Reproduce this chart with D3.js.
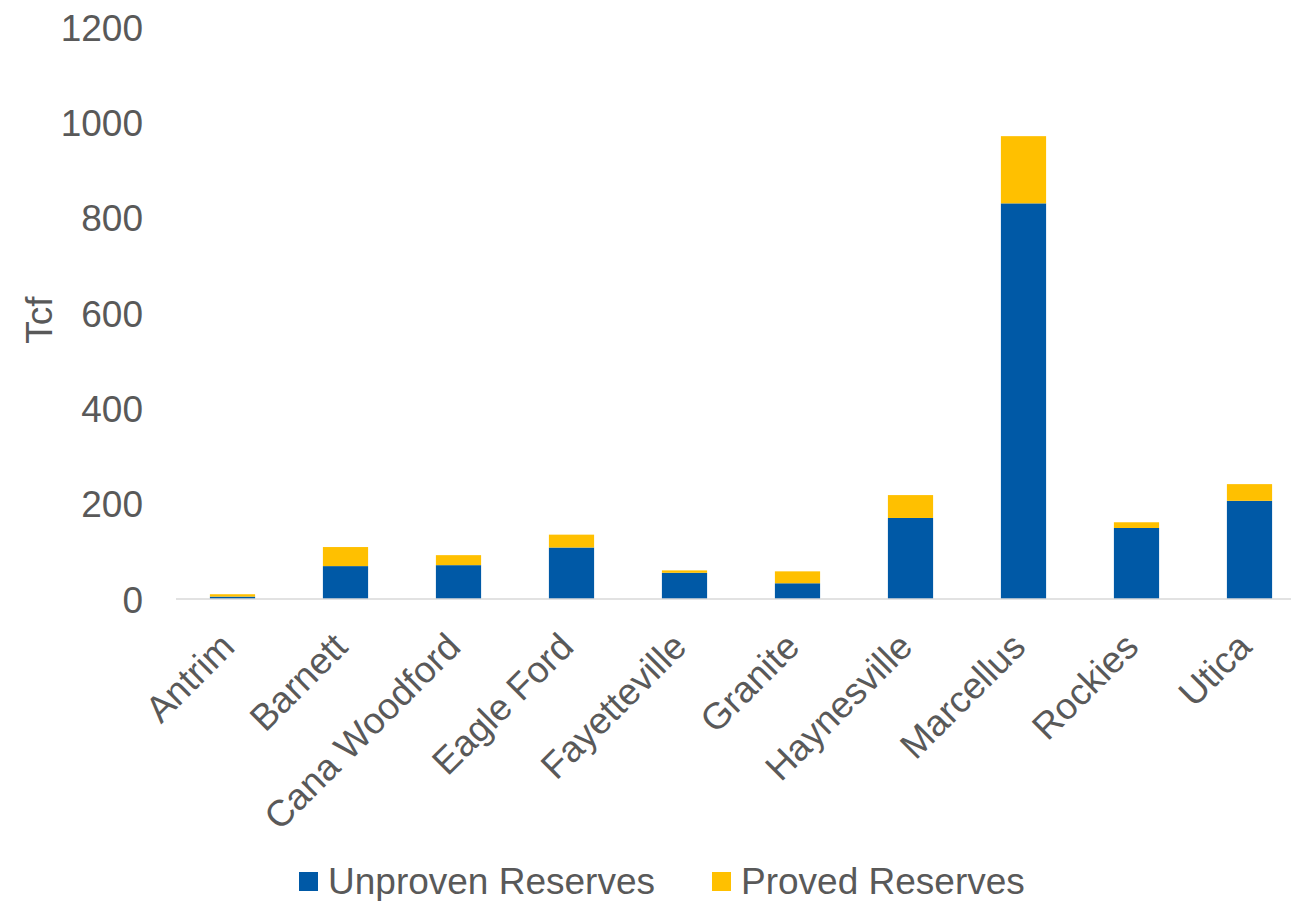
<!DOCTYPE html>
<html>
<head>
<meta charset="utf-8">
<script src="https://cdn.jsdelivr.net/npm/d3@7"></script>
<style>
  html, body { margin: 0; padding: 0; background: #fff; }
  text { font-family: "Liberation Sans", Arial, sans-serif; fill: #595959; }
</style>
</head>
<body>
<svg id="chart" width="1291" height="901"></svg>
<script>
// Shale plays and their gas reserves (Tcf)
const categories = ["Antrim", "Barnett", "Cana Woodford", "Eagle Ford", "Fayetteville",
                    "Granite", "Haynesville", "Marcellus", "Rockies", "Utica"];
const unproven = [5, 69, 71, 108, 55, 33, 170, 830, 149, 206];
const proved   = [5, 40, 21, 27, 5, 25, 48, 141, 12, 35];
const seriesNames = ["Unproven Reserves", "Proved Reserves"];
const seriesColors = ["#0059A6", "#FFC000"];
const yTicks = [0, 200, 400, 600, 800, 1000, 1200];

const svg = d3.select("#chart");
const margin = { left: 176, right: -15 };
const W = 1291;
const FONT = "37px";

const x = d3.scaleBand()
  .domain(categories)
  .range([margin.left, W - margin.right])
  .paddingInner(0.6)
  .paddingOuter(0.3);

const y = d3.scaleLinear()
  .domain([0, 1200])
  .range([599, 27]);

const rows = categories.map((c, i) => ({ cat: c, unproven: unproven[i], proved: proved[i] }));
const stacked = d3.stack().keys(["unproven", "proved"])(rows);

// stacked bars
svg.append("g").selectAll("g")
  .data(stacked)
  .join("g")
  .attr("fill", (d, i) => seriesColors[i])
  .selectAll("rect")
  .data(d => d)
  .join("rect")
  .attr("x", d => x(d.data.cat))
  .attr("width", x.bandwidth())
  .attr("y", d => y(d[1]))
  .attr("height", d => y(d[0]) - y(d[1]));

// y axis labels (no axis line)
const yAxis = svg.append("g")
  .attr("transform", "translate(143,0)")
  .call(d3.axisLeft(y).tickValues(yTicks).tickFormat(d3.format("d")).tickSize(0).tickPadding(0));
yAxis.select(".domain").remove();
yAxis.selectAll("text")
  .style("font-size", FONT)
  .attr("fill", "#595959")
  .attr("dy", "0.36em");

// baseline
svg.append("line")
  .attr("x1", margin.left).attr("x2", W)
  .attr("y1", y(0)).attr("y2", y(0))
  .attr("stroke", "#d9d9d9").attr("stroke-width", 1.5);

// category labels rotated -45
const xAxis = svg.append("g")
  .attr("transform", `translate(0,${y(0)})`)
  .call(d3.axisBottom(x).tickSize(0).tickPadding(0));
xAxis.select(".domain").remove();
xAxis.selectAll("text")
  .style("font-size", FONT)
  .attr("fill", "#595959")
  .attr("text-anchor", "end")
  .attr("dy", null)
  .attr("y", 0)
  .attr("transform", "translate(4,50) rotate(-45)");

// y axis title
svg.append("text")
  .attr("transform", "translate(39,320) rotate(-90)")
  .attr("text-anchor", "middle")
  .attr("dy", "0.36em")
  .style("font-size", FONT)
  .text("Tcf");

// legend
const legendItems = [
  { name: seriesNames[0], color: seriesColors[0], sx: 299 },
  { name: seriesNames[1], color: seriesColors[1], sx: 712 }
];
const lg = svg.append("g").selectAll("g").data(legendItems).join("g");
lg.append("rect")
  .attr("x", d => d.sx).attr("y", 872)
  .attr("width", 19).attr("height", 19)
  .attr("fill", d => d.color);
lg.append("text")
  .attr("x", d => d.sx + 29).attr("y", 881)
  .attr("dy", "0.36em")
  .style("font-size", FONT)
  .text(d => d.name);
</script>
</body>
</html>
